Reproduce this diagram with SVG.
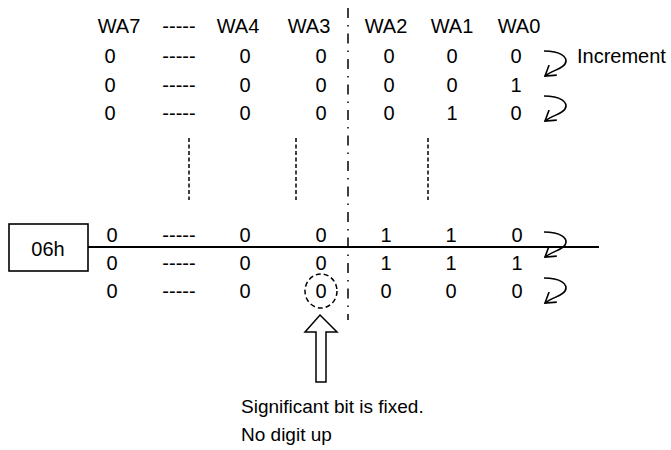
<svg xmlns="http://www.w3.org/2000/svg" width="671" height="450" viewBox="0 0 671 450">
<style>
text{font-family:"Liberation Sans",Arial,sans-serif;font-size:20px;fill:#000}
.m{text-anchor:middle}
.ln{stroke:#000;fill:none}
.vd{stroke:#000;stroke-width:1.5;stroke-dasharray:4 2.5;fill:none}
.cv{stroke:#000;stroke-width:1.6;fill:none;marker-end:url(#ah)}
</style>
<defs>
<marker id="ah" viewBox="0 0 12 12" refX="10.5" refY="6" markerWidth="14" markerHeight="14" markerUnits="userSpaceOnUse" orient="auto">
<path d="M2,0.5 L10.5,6 L2,11.5" fill="none" stroke="#000" stroke-width="1.4"/>
</marker>
</defs>
<rect width="671" height="450" fill="#fff"/>
<g id="header">
<text class="m" x="119" y="33">WA7</text>
<text class="m" x="179" y="33">-----</text>
<text class="m" x="238" y="33">WA4</text>
<text class="m" x="309" y="33">WA3</text>
<text class="m" x="386" y="33">WA2</text>
<text class="m" x="452" y="33">WA1</text>
<text class="m" x="519" y="33">WA0</text>
</g>
<g id="rows-top">
<text class="m" x="110" y="63">0</text><text class="m" x="179" y="63">-----</text><text class="m" x="245" y="63">0</text><text class="m" x="321" y="63">0</text><text class="m" x="389" y="63">0</text><text class="m" x="452" y="63">0</text><text class="m" x="516" y="63">0</text>
<text class="m" x="110" y="92">0</text><text class="m" x="179" y="92">-----</text><text class="m" x="245" y="92">0</text><text class="m" x="321" y="92">0</text><text class="m" x="389" y="92">0</text><text class="m" x="452" y="92">0</text><text class="m" x="516" y="92">1</text>
<text class="m" x="110" y="120">0</text><text class="m" x="179" y="120">-----</text><text class="m" x="245" y="120">0</text><text class="m" x="321" y="120">0</text><text class="m" x="389" y="120">0</text><text class="m" x="452" y="120">1</text><text class="m" x="516" y="120">0</text>
<text x="577" y="63">Increment</text>
</g>
<g id="rows-bottom">
<text class="m" x="112" y="242">0</text><text class="m" x="179" y="242">-----</text><text class="m" x="245" y="242">0</text><text class="m" x="321" y="242">0</text><text class="m" x="386" y="242">1</text><text class="m" x="451" y="242">1</text><text class="m" x="517" y="242">0</text>
<text class="m" x="112" y="270">0</text><text class="m" x="179" y="270">-----</text><text class="m" x="245" y="270">0</text><text class="m" x="321" y="270">0</text><text class="m" x="386" y="270">1</text><text class="m" x="451" y="270">1</text><text class="m" x="517" y="270">1</text>
<text class="m" x="112" y="298">0</text><text class="m" x="179" y="298">-----</text><text class="m" x="245" y="298">0</text><text class="m" x="321" y="298">0</text><text class="m" x="386" y="298">0</text><text class="m" x="451" y="298">0</text><text class="m" x="517" y="298">0</text>
</g>
<g id="node-06h">
<rect x="9" y="224" width="79" height="47" fill="#fff" stroke="#000" stroke-width="1.6"/>
<text class="m" x="48" y="256">06h</text>
</g>
<g id="circle-fixed">
<ellipse cx="321" cy="291" rx="16" ry="17" fill="none" stroke="#000" stroke-width="1.5" stroke-dasharray="5 3"/>
</g>
<g id="hollow-arrow">
<polygon points="320,315 337,332 326,332 326,382 316,382 316,332 305,332" fill="#fff" stroke="#000" stroke-width="1.5"/>
</g>
<g id="note">
<text x="241" y="413" style="font-size:19px">Significant bit is fixed.</text>
<text x="241" y="441" style="font-size:19px">No digit up</text>
</g>
<g id="connectors">
<line class="ln" x1="348" y1="8" x2="348" y2="320" stroke-width="1.5" stroke-dasharray="10 7 1.5 7"/>
<line class="ln" x1="88" y1="247" x2="599" y2="247" stroke-width="2"/>
<line class="vd" x1="189" y1="138" x2="189" y2="200"/>
<line class="vd" x1="296" y1="138" x2="296" y2="200"/>
<line class="vd" x1="428" y1="138" x2="428" y2="200"/>
<path class="cv" d="M544,51 C560,51 569,57 565,64 C562,69 553,70 545,76"/>
<path class="cv" d="M544,96 C560,96 569,102 565,109 C562,114 553,115 545,121"/>
<path class="cv" d="M544,232 C560,232 569,238 565,245 C562,250 553,251 545,257"/>
<path class="cv" d="M544,278 C560,278 569,284 565,291 C562,296 553,297 545,303"/>
</g>
</svg>
